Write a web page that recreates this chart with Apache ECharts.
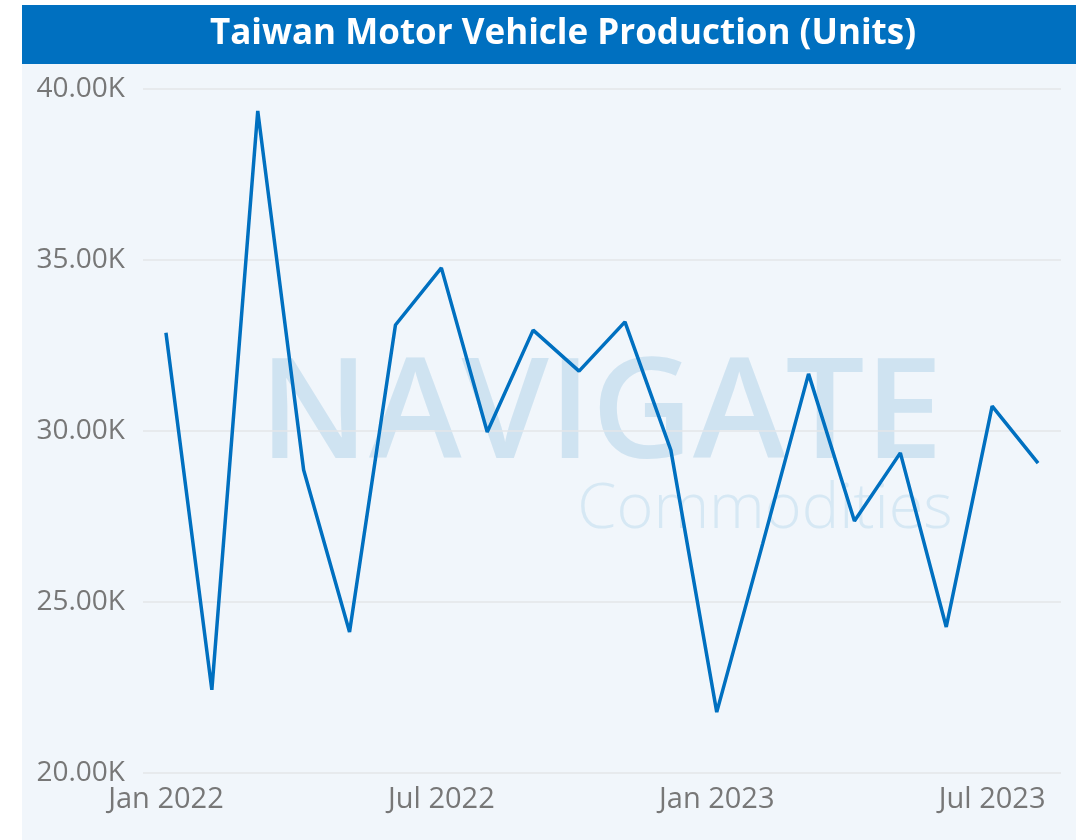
<!DOCTYPE html>
<html>
<head>
<meta charset="utf-8">
<script src="https://cdn.jsdelivr.net/npm/echarts@6/dist/echarts.min.js"></script>
<style>
html,body{margin:0;padding:0;background:#fff;}
#box{width:1076px;height:840px;}
</style>
</head>
<body>
<div id="box"></div>
<script>
// months shown on the x axis
var monthList = ['Jan 2022','Feb 2022','Mar 2022','Apr 2022','May 2022','Jun 2022',
	'Jul 2022','Aug 2022','Sep 2022','Oct 2022','Nov 2022','Dec 2022',
	'Jan 2023','Feb 2023','Mar 2023','Apr 2023','May 2023','Jun 2023','Jul 2023','Aug 2023'];
// production, units
var valueList = [32870, 22430, 39360, 28860, 24120, 33100, 34770, 29970, 32950, 31750, 33190, 29440,
	21780, 26700, 31670, 27370, 29360, 24270, 30730, 29060];
var yTicks = [20000, 25000, 30000, 35000, 40000];

var titleText = 'Taiwan Motor Vehicle Production (Units)';

var dom = document.getElementById('box');
var myChart = echarts.init(dom);
var option = {
	backgroundColor: '#ffffff',
	animation: false,
	graphic: [
		{type: 'rect', z: -10, shape: {x: 22, y: 64, width: 1054, height: 776}, style: {fill: '#f1f6fb'}},
		{type: 'rect', z: -10, shape: {x: 22, y: 5, width: 1054, height: 59}, style: {fill: '#0070c0'}},
		{type: 'text', z: -5, x: 563, y: 34,
			style: {text: titleText, fill: '#ffffff', font: 'bold 35px "Open Sans", sans-serif',
				textAlign: 'center', textVerticalAlign: 'middle'}},
		// watermark
		{type: 'text', z: -5, x: 601, y: 418,
			style: {text: 'NAVIGATE', fill: '#cfe3f1', font: '600 140px "Open Sans", sans-serif',
				textAlign: 'center', textVerticalAlign: 'middle'}},
		{type: 'text', z: -5, x: 765, y: 510,
			style: {text: 'Commodities', fill: '#d6e8f4', font: '300 63px "Open Sans", sans-serif',
				textAlign: 'center', textVerticalAlign: 'middle'}}
	],
	grid: {left: 143, right: 15, top: 89, bottom: 67},
	xAxis: {
		type: 'category',
		boundaryGap: true,
		data: monthList,
		axisLine: {show: false},
		axisTick: {show: false},
		axisLabel: {
			interval: function (i) { return i % 6 === 0; },
			color: '#777777',
			fontSize: 29,
			fontFamily: '"Open Sans", sans-serif',
			margin: 12
		}
	},
	yAxis: {
		type: 'value',
		min: yTicks[0],
		max: yTicks[yTicks.length - 1],
		interval: 5000,
		axisLine: {show: false},
		axisTick: {show: false},
		splitLine: {lineStyle: {color: '#e3e6e9', width: 1.5}},
		axisLabel: {
			color: '#777777',
			fontSize: 28,
			fontFamily: '"Open Sans", sans-serif',
			margin: 18,
			formatter: function (v) { return (v / 1000).toFixed(2) + 'K'; }
		}
	},
	series: [{
		type: 'line',
		data: valueList,
		symbol: 'none',
		z: 5,
		lineStyle: {color: '#0070c0', width: 3.5}
	}]
};
myChart.setOption(option, true);
</script>
</body>
</html>
